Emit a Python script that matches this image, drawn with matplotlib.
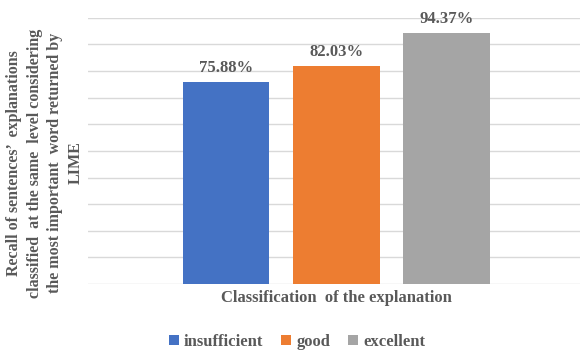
import matplotlib
matplotlib.use("Agg")
import matplotlib.pyplot as plt
from matplotlib.patches import Patch

# recall values per explanation class (%)
categories = ["insufficient", "good", "excellent"]
recall = [75.88, 82.03, 94.37]
colors = ["#4472C4", "#ED7D31", "#A5A5A5"]
value_labels = ["75.88%", "82.03%", "94.37%"]

plt.rcParams["font.family"] = ["Liberation Serif", "DejaVu Serif"]
plt.rcParams["font.weight"] = "bold"
txt = "#595959"

fig = plt.figure(figsize=(5.8, 3.54), dpi=100)
ax = fig.add_axes([88 / 580, 70 / 354, 1 - 88 / 580, 266.2 / 354])

xs = range(len(categories))
bars = ax.bar(xs, recall, width=0.784, color=colors, zorder=3)
for b, lab in zip(bars, value_labels):
    ax.text(b.get_x() + b.get_width() / 2, b.get_height() + 2.2, lab,
            ha="center", va="bottom", fontsize=12, fontweight="bold", color=txt)

ax.set_ylim(0, 100)
ax.set_xlim(-1.251, 3.209)
ax.set_yticks(range(0, 101, 10))
ax.yaxis.grid(True, color="#D9D9D9", linewidth=1, zorder=0)
ax.tick_params(left=False, bottom=False, labelleft=False, labelbottom=False)
for s in ax.spines.values():
    s.set_visible(False)

fig.text(336 / 580, 1 - 298 / 354, "Classification  of the explanation",
         ha="center", va="center", fontsize=12, fontweight="bold", color=txt)

fig.text(45 / 580, 1 - 163 / 354,
         "Recall of sentences’  explanations\n"
         "classified  at the same  level considering\n"
         "the most important  word returned by\nLIME",
         rotation=90, ha="center", va="center", multialignment="center",
         fontsize=11.5, fontweight="bold", color=txt, linespacing=1.4)

handles = [Patch(facecolor=c, edgecolor="none") for c in colors]
fig.legend(handles, categories, loc="center", bbox_to_anchor=(297 / 580, 1 - 342 / 354),
           ncol=3, frameon=False, fontsize=12, handlelength=0.6, handleheight=0.6,
           handletextpad=0.3, columnspacing=1.1, labelcolor=txt)

fig.savefig("out.png", dpi=100)
